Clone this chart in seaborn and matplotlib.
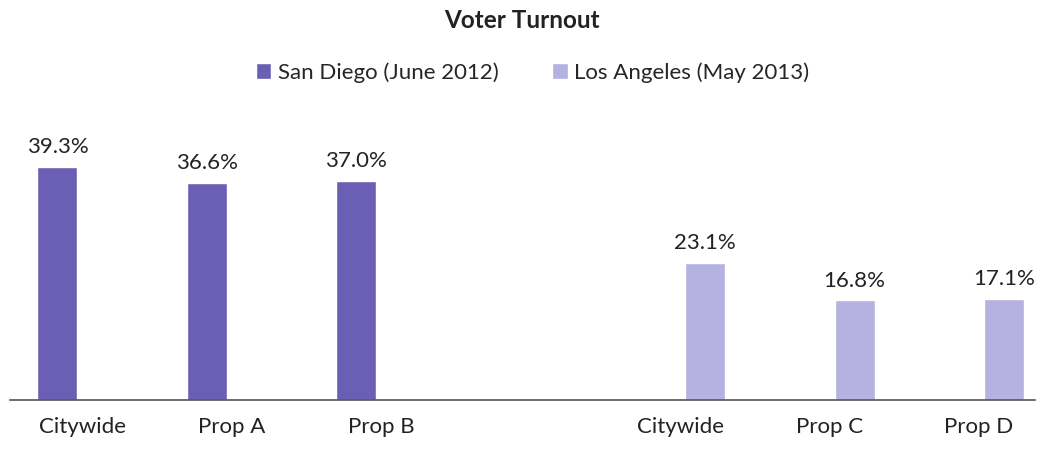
import pandas as pd
import matplotlib.pyplot as plt
import seaborn as sns

# Values
categories = ["SD Citywide", "Prop A", "Prop B", "", "LA Citywide", "Prop C", "Prop D"]
tick_labels = ["Citywide", "Prop A", "Prop B", "", "Citywide", "Prop C", "Prop D"]
sd_cats = ["SD Citywide", "Prop A", "Prop B"]
sd_turnout = [39.3, 36.6, 37.0]
la_cats = ["LA Citywide", "Prop C", "Prop D"]
la_turnout = [23.1, 16.8, 17.1]
series = ["San Diego (June 2012)", "Los Angeles (May 2013)"]

df = pd.DataFrame({
    "category": sd_cats + la_cats,
    "turnout": sd_turnout + la_turnout,
    "group": [series[0]] * 3 + [series[1]] * 3,
})

sns.set_style("white")
plt.rcParams["font.family"] = ["Lato", "DejaVu Sans"]

fig = plt.figure(figsize=(10.4, 4.49), dpi=100)
ax = fig.add_axes([0.0096, 0.109, 0.9856, 0.66])

palette = {series[0]: "#6a5fb5", series[1]: "#b5b1e1"}
sns.barplot(data=df, x="category", y="turnout", hue="group", hue_order=series,
            order=categories, palette=palette, width=0.67, gap=0.2, dodge=True,
            saturation=1, ax=ax)

for c in ax.containers:
    ax.bar_label(c, fmt="%.1f%%", padding=7, fontsize=16, color="#222222")

ax.set_xlim(-0.485, 6.375)
ax.set_ylim(0, 50)
ax.set_xticks(range(len(categories)), tick_labels, fontsize=16, color="#222222")
ax.tick_params(axis="x", length=0, pad=12)
ax.set_yticks([])
ax.set_xlabel("")
ax.set_ylabel("")
sns.despine(ax=ax, left=True, top=True, right=True)
ax.spines["bottom"].set_color("#555555")
ax.spines["bottom"].set_linewidth(1.2)

fig.suptitle("Voter Turnout", x=0.502, y=0.955, va="center", fontsize=17.5,
             fontweight="bold", color="#222222")
ax.legend(loc="center", bbox_to_anchor=(0.51, 1.105), ncol=2, frameon=False,
          fontsize=16, handlelength=0.7, handleheight=0.7, handletextpad=0.3,
          columnspacing=2.4)

fig.savefig("out.png", dpi=100)
